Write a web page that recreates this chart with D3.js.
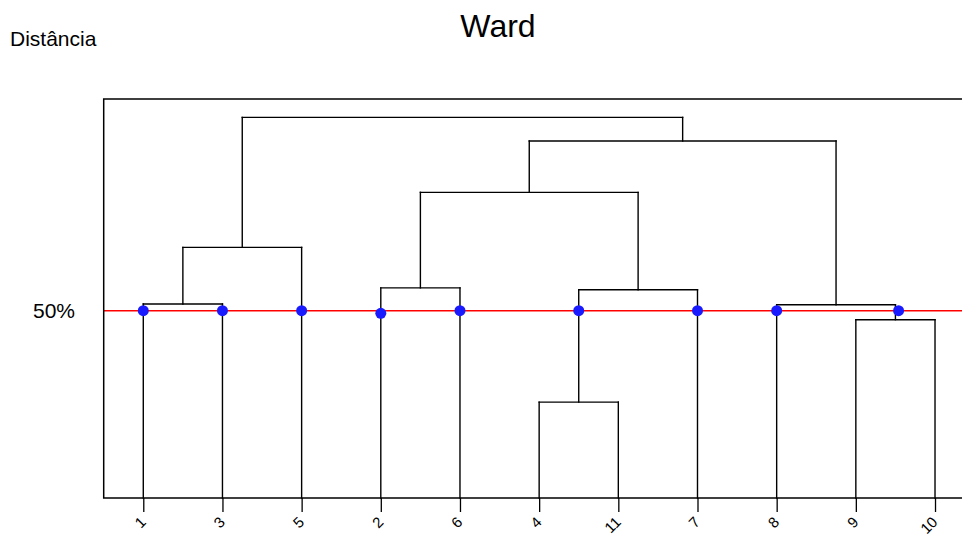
<!DOCTYPE html>
<html><head><meta charset="utf-8">
<script src="https://cdn.jsdelivr.net/npm/d3@7"></script>
<style>body{margin:0;background:#fff}svg{display:block}text{font-family:Arial,"Liberation Sans",sans-serif}</style>
</head><body><svg id="c" width="962" height="538"></svg>
<script>
// leaf order along the x axis
const leafLabels = ["1","3","5","2","6","4","11","7","8","9","10"];
// hclust-like merges: negative = leaf label number, positive = earlier merge step (1-based)
const mergeA = [-1, -4, -9, -8, -2, 2, 1, 5, 8, 7];
const mergeB = [-3, -11, -10, 3, -6, -7, -5, 6, 4, 9];
const mergeHeight = [51.8, 25.6, 47.6, 51.6, 56.1, 55.6, 66.9, 81.6, 95.3, 101.6];
// cut level (percent) and the cluster points marked on it
const cutLevel = 50;
const cutLabel = "50%";
const dotPos = [0, 1, 2, 3, 4, 5.5, 7, 8, 9.54];
const dotLevel = [50, 50, 50, 49.3, 50, 50, 50, 50, 50];
const title = "Ward";
const yTitle = "Distância";

const svg = d3.select("#c");
const x = d3.scaleLinear().domain([-0.5, leafLabels.length - 0.5]).range([103.7, 974.6]);
const y = d3.scaleLinear().domain([0, 100]).range([498, 123.4]);

// node positions
const leafX = {};
leafLabels.forEach((l, i) => leafX[+l] = i);
const nodes = [];
function nodeInfo(id) {
  return id < 0 ? {x: leafX[-id], h: 0} : nodes[id - 1];
}
const segs = [];
mergeA.forEach((a, i) => {
  const A = nodeInfo(a), B = nodeInfo(mergeB[i]), h = mergeHeight[i];
  segs.push([A.x, A.h, A.x, h], [A.x, h, B.x, h], [B.x, h, B.x, B.h]);
  nodes.push({x: (A.x + B.x) / 2, h});
});

const g = svg.append("g");
g.selectAll("line.tree").data(segs).join("line").attr("class", "tree")
  .attr("x1", d => x(d[0])).attr("y1", d => y(d[1]))
  .attr("x2", d => x(d[2])).attr("y2", d => y(d[3]))
  .attr("stroke", "#000").attr("stroke-width", 1.4).attr("stroke-linecap", "square");

// cut line
svg.append("line").attr("x1", x.range()[0]).attr("x2", 962)
  .attr("y1", y(cutLevel)).attr("y2", y(cutLevel))
  .attr("stroke", "#ff0000").attr("stroke-width", 1.5);

svg.selectAll("circle.dot").data(dotPos).join("circle").attr("class", "dot")
  .attr("cx", d => x(d)).attr("cy", (d, i) => y(dotLevel[i])).attr("r", 5.5)
  .attr("fill", "#1a1aff");

// frame (right edge outside the window)
svg.append("path")
  .attr("d", `M${x.range()[1]},${y.range()[0]}H${x.range()[0]}V99H${x.range()[1]}`)
  .attr("fill", "none").attr("stroke", "#000").attr("stroke-width", 1.5);

// x axis
const axis = svg.append("g").attr("transform", `translate(0,${y(0)})`)
  .call(d3.axisBottom(x).tickValues(d3.range(leafLabels.length)).tickSize(14).tickFormat(i => leafLabels[i]));
axis.select(".domain").remove();
axis.selectAll(".tick line").attr("stroke", "#000").attr("stroke-width", 1.3);
axis.selectAll(".tick text").attr("fill", "#000").attr("font-size", 15)
  .attr("text-anchor", "end").attr("dy", null).attr("y", 0)
  .attr("transform", "translate(3,25) rotate(-45)");

svg.append("text").attr("x", 498).attr("y", 37).attr("text-anchor", "middle")
  .attr("font-size", 32).attr("fill", "#000").text(title);
svg.append("text").attr("x", 10).attr("y", 46).attr("font-size", 21)
  .attr("fill", "#000").text(yTitle);
svg.append("text").attr("x", 75).attr("y", y(cutLevel) + 7.5).attr("text-anchor", "end")
  .attr("font-size", 21).attr("fill", "#000").text(cutLabel);
</script></body></html>
